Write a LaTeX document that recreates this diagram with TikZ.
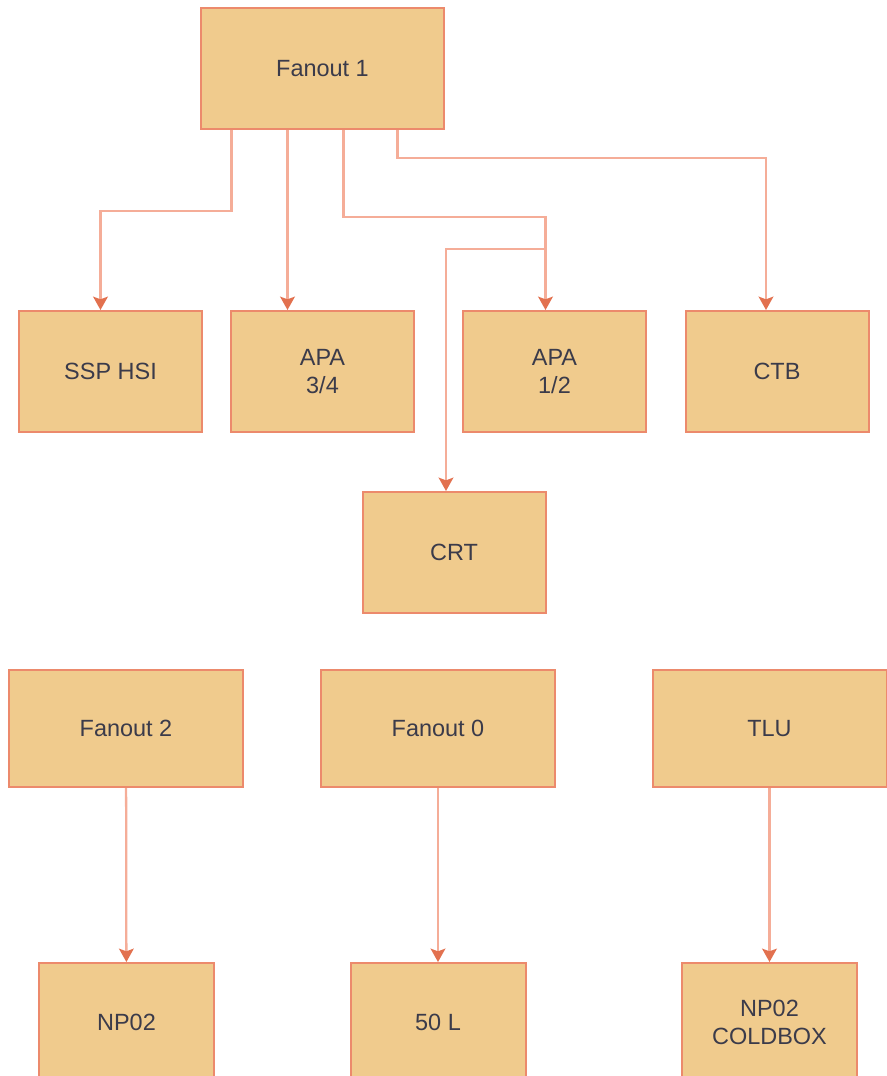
\documentclass[tikz,border=0pt]{standalone}
\usepackage{fontspec}
\setmainfont{Liberation Sans}
\usetikzlibrary{arrows.meta}

\definecolor{boxfill}{HTML}{F0CB8D}
\definecolor{boxline}{HTML}{EC8A6C}
\definecolor{linkline}{HTML}{F5AD98}
\definecolor{tipcol}{HTML}{E2714F}
\definecolor{txtcol}{HTML}{3B3B4A}

\tikzset{
  unit/.style={draw=boxline, fill=boxfill, line width=1.5pt, text=txtcol,
    align=center, inner sep=0pt, font=\fontsize{17.6}{21}\selectfont},
  topbox/.style={unit, minimum width=182.25pt, minimum height=90.75pt},
  midbox/.style={unit, minimum width=137.25pt, minimum height=90.75pt},
  fanbox/.style={unit, minimum width=175.5pt, minimum height=87.75pt},
  endbox/.style={unit, minimum width=131.25pt, minimum height=89.25pt},
  link/.style={draw=linkline, line width=1.7pt,
    -{Stealth[length=10pt, width=11pt, inset=2pt, color=tipcol]}}
}

\begin{document}
\begin{tikzpicture}[x=0.75pt, y=-0.75pt]
\clip (0,0) rectangle (887,1076);
%\draw[help lines] (0,0) grid (887,1076);
\node (f1) [topbox] at (322.5,68.5) {Fanout 1};
\node (ssp) [midbox] at (110.5,371.5) {SSP HSI};
\node (apa34) [midbox] at (322.5,371.5) {APA\\3/4};
\node (apa12) [midbox] at (554.5,371.5) {APA\\1/2};
\node (ctb) [midbox] at (777,371.5) {CTB};
\node (crt) [midbox] at (454,552.5) {CRT};
\node (f2) [fanbox] at (126,728.5) {Fanout 2};
\node (f0) [fanbox] at (438,728.5) {Fanout 0};
\node (tlu) [fanbox] at (769.5,728.5) {TLU};
\node (np02) [endbox] at (126.5,1022.5) {NP02};
\node (fifty) [endbox] at (438,1022.5) {50 L};
\node (cold) [endbox] at (769.5,1022.5) {NP02\\COLDBOX};

% fanout 1 outputs
\draw[link] ([xshift=-68.25pt]f1.south) -- ++(0,-60.75pt) -| ([xshift=-7.5pt]ssp.north);
\draw[link] ([xshift=-26.25pt]f1.south) -- ([xshift=-26.25pt]apa34.north);
\draw[link] ([xshift=15.75pt]f1.south) -- ++(0,-65.25pt) -| ([xshift=-6.75pt]apa12.north);
\draw[link] ([xshift=56.25pt]f1.south) -- ++(0,-21pt) -| ([xshift=-8.25pt]ctb.north);
\draw[link] ([xshift=-6.75pt,yshift=45.75pt]apa12.north) -| ([xshift=-6pt]crt.north);

% other fanouts
\draw[link] (f2) -- (np02);
\draw[link] (f0) -- (fifty);
\draw[link] (tlu) -- (cold);
\end{tikzpicture}
\end{document}
